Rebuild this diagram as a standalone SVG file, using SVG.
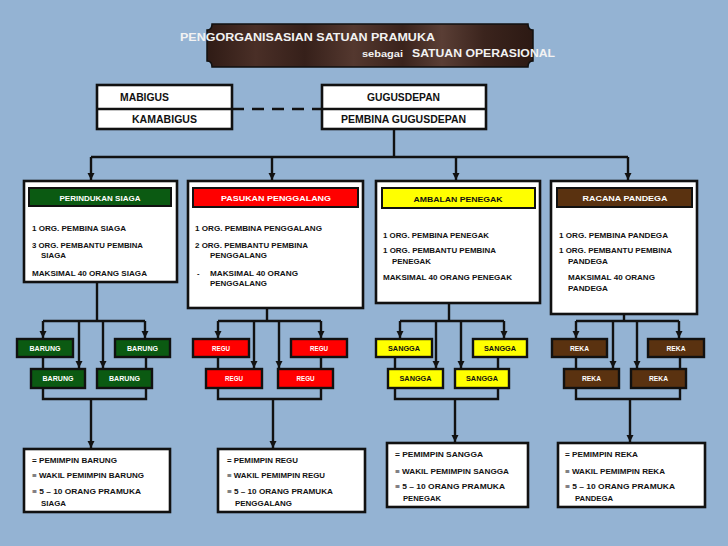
<svg xmlns="http://www.w3.org/2000/svg" width="728" height="546" viewBox="0 0 728 546">
<defs>
<linearGradient id="bannerGrad" x1="0" y1="0" x2="1" y2="0">
<stop offset="0" stop-color="#2f1b15"/>
<stop offset="0.15" stop-color="#4a2f27"/>
<stop offset="0.3" stop-color="#36201a"/>
<stop offset="0.45" stop-color="#54382f"/>
<stop offset="0.6" stop-color="#3a231c"/>
<stop offset="0.72" stop-color="#5a3e35"/>
<stop offset="0.85" stop-color="#3b241d"/>
<stop offset="1" stop-color="#2c1913"/>
</linearGradient>
<marker id="arr" markerUnits="userSpaceOnUse" markerWidth="8" markerHeight="8" refX="7" refY="3.5" orient="auto">
<path d="M0,0 L7,3.5 L0,7 Z" fill="#111"/>
</marker>
<style>
.ln{stroke:#111;stroke-width:2.4;fill:none}
.box{fill:#fff;stroke:#111;stroke-width:2.6}
.hdr{stroke:#111;stroke-width:2}
.sb{stroke:#111;stroke-width:2.4}
.green{fill:#0b5a12}
.red{fill:#ff0000}
.yellow{fill:#ffff00}
.brown{fill:#5a3210}
text{font-family:"Liberation Sans",Arial,sans-serif;font-weight:bold}
.t{font-size:7.6px;fill:#111}
.top{font-size:10px;fill:#111}
.hw{font-size:8px;fill:#fff;text-anchor:middle}
.hb{font-size:8px;fill:#111;text-anchor:middle}
.sw{font-size:6.5px;fill:#fff;text-anchor:middle}
.sk{font-size:6.5px;fill:#111;text-anchor:middle}
.title{fill:#f2f2f2}
</style>
</defs>
<rect width="728" height="546" fill="#94b3d3"/>

<g id="title">
<path d="M212,24 H528 Q528,30 533,30 V61 Q528,61 528,67 H212 Q212,61 207,61 V30 Q212,30 212,24 Z" fill="url(#bannerGrad)" stroke="#111" stroke-width="1.5"/>
<text class="title" x="180" y="41" font-size="11" textLength="255" lengthAdjust="spacingAndGlyphs">PENGORGANISASIAN SATUAN PRAMUKA</text>
<text class="title" x="362" y="57" font-size="8.5" textLength="41" lengthAdjust="spacingAndGlyphs">sebagai</text>
<text class="title" x="412" y="57" font-size="10.5" textLength="143" lengthAdjust="spacingAndGlyphs">SATUAN OPERASIONAL</text>
</g>

<g id="connectors">
<line class="ln" x1="232" y1="109" x2="322" y2="109" stroke-width="3" stroke-dasharray="12 8"/>
<line class="ln" x1="394" y1="129" x2="394" y2="157"/>
<line class="ln" x1="91" y1="157" x2="628" y2="157"/>
<line class="ln" x1="91" y1="157" x2="91" y2="180" marker-end="url(#arr)"/>
<line class="ln" x1="272" y1="157" x2="272" y2="180" marker-end="url(#arr)"/>
<line class="ln" x1="456" y1="157" x2="456" y2="180" marker-end="url(#arr)"/>
<line class="ln" x1="628" y1="157" x2="628" y2="180" marker-end="url(#arr)"/>

<line class="ln" x1="97" y1="282" x2="97" y2="321"/>
<line class="ln" x1="43" y1="321" x2="145" y2="321"/>
<line class="ln" x1="43" y1="321" x2="43" y2="338" marker-end="url(#arr)"/>
<line class="ln" x1="145" y1="321" x2="145" y2="338" marker-end="url(#arr)"/>
<line class="ln" x1="79" y1="321" x2="79" y2="368" marker-end="url(#arr)"/>
<line class="ln" x1="103" y1="321" x2="103" y2="368" marker-end="url(#arr)"/>
<polyline class="ln" points="43,357 43,399 146,399 146,357"/>
<line class="ln" x1="91" y1="399" x2="91" y2="448" marker-end="url(#arr)"/>

<line class="ln" x1="267" y1="303" x2="267" y2="321"/>
<line class="ln" x1="218" y1="321" x2="321" y2="321"/>
<line class="ln" x1="218" y1="321" x2="218" y2="338" marker-end="url(#arr)"/>
<line class="ln" x1="321" y1="321" x2="321" y2="338" marker-end="url(#arr)"/>
<line class="ln" x1="254" y1="321" x2="254" y2="368" marker-end="url(#arr)"/>
<line class="ln" x1="279" y1="321" x2="279" y2="368" marker-end="url(#arr)"/>
<polyline class="ln" points="218,357 218,399 321,399 321,357"/>
<line class="ln" x1="273" y1="399" x2="273" y2="448" marker-end="url(#arr)"/>

<line class="ln" x1="449" y1="303" x2="449" y2="321"/>
<line class="ln" x1="400" y1="321" x2="504" y2="321"/>
<line class="ln" x1="400" y1="321" x2="400" y2="338" marker-end="url(#arr)"/>
<line class="ln" x1="504" y1="321" x2="504" y2="338" marker-end="url(#arr)"/>
<line class="ln" x1="436" y1="321" x2="436" y2="368" marker-end="url(#arr)"/>
<line class="ln" x1="461" y1="321" x2="461" y2="368" marker-end="url(#arr)"/>
<polyline class="ln" points="395,357 395,399 498,399 498,357"/>
<line class="ln" x1="455" y1="399" x2="455" y2="442" marker-end="url(#arr)"/>

<line class="ln" x1="624" y1="309" x2="624" y2="321"/>
<line class="ln" x1="576" y1="321" x2="679" y2="321"/>
<line class="ln" x1="576" y1="321" x2="576" y2="338" marker-end="url(#arr)"/>
<line class="ln" x1="679" y1="321" x2="679" y2="338" marker-end="url(#arr)"/>
<line class="ln" x1="613" y1="321" x2="613" y2="368" marker-end="url(#arr)"/>
<line class="ln" x1="637" y1="321" x2="637" y2="368" marker-end="url(#arr)"/>
<polyline class="ln" points="576,357 576,399 680,399 680,357"/>
<line class="ln" x1="630" y1="399" x2="630" y2="442" marker-end="url(#arr)"/>
</g>

<g id="mabigus">
<rect class="box" x="97" y="85" width="135" height="44"/>
<line class="ln" x1="97" y1="109" x2="232" y2="109"/>
<text class="top" x="120" y="101" textLength="49" lengthAdjust="spacingAndGlyphs">MABIGUS</text>
<text class="top" x="132" y="123" textLength="65" lengthAdjust="spacingAndGlyphs">KAMABIGUS</text>
</g>

<g id="gugusdepan">
<rect class="box" x="322" y="85" width="164" height="44"/>
<line class="ln" x1="322" y1="109" x2="486" y2="109"/>
<text class="top" x="367" y="101" textLength="73" lengthAdjust="spacingAndGlyphs">GUGUSDEPAN</text>
<text class="top" x="341" y="123" textLength="125" lengthAdjust="spacingAndGlyphs">PEMBINA GUGUSDEPAN</text>
</g>

<g id="perindukan">
<rect class="box" x="24" y="181" width="153" height="101"/>
<rect class="hdr green" x="29" y="188" width="142" height="18"/>
<text class="hw" x="100" y="200.5" textLength="81" lengthAdjust="spacingAndGlyphs">PERINDUKAN SIAGA</text>
<text class="t" x="32" y="231" textLength="94" lengthAdjust="spacingAndGlyphs">1 ORG. PEMBINA SIAGA</text>
<text class="t" x="32" y="248" textLength="111" lengthAdjust="spacingAndGlyphs">3 ORG. PEMBANTU PEMBINA</text>
<text class="t" x="41" y="258" textLength="25" lengthAdjust="spacingAndGlyphs">SIAGA</text>
<text class="t" x="32" y="276" textLength="115" lengthAdjust="spacingAndGlyphs">MAKSIMAL 40 ORANG SIAGA</text>
</g>

<g id="pasukan">
<rect class="box" x="188" y="181" width="175" height="127"/>
<rect class="hdr red" x="193" y="188" width="165" height="19"/>
<text class="hw" x="276" y="201" textLength="110" lengthAdjust="spacingAndGlyphs">PASUKAN PENGGALANG</text>
<text class="t" x="195" y="231" textLength="127" lengthAdjust="spacingAndGlyphs">1 ORG. PEMBINA PENGGALANG</text>
<text class="t" x="195" y="248" textLength="113" lengthAdjust="spacingAndGlyphs">2 ORG. PEMBANTU PEMBINA</text>
<text class="t" x="210" y="258" textLength="57" lengthAdjust="spacingAndGlyphs">PENGGALANG</text>
<text class="t" x="197" y="276">-</text>
<text class="t" x="210" y="276" textLength="88" lengthAdjust="spacingAndGlyphs">MAKSIMAL 40 ORANG</text>
<text class="t" x="210" y="286" textLength="57" lengthAdjust="spacingAndGlyphs">PENGGALANG</text>
</g>

<g id="ambalan">
<rect class="box" x="376" y="181" width="164" height="122"/>
<rect class="hdr yellow" x="382" y="188" width="153" height="20"/>
<text class="hb" x="458" y="201.5" textLength="89" lengthAdjust="spacingAndGlyphs">AMBALAN PENEGAK</text>
<text class="t" x="383" y="238" textLength="106" lengthAdjust="spacingAndGlyphs">1 ORG. PEMBINA PENEGAK</text>
<text class="t" x="383" y="253" textLength="113" lengthAdjust="spacingAndGlyphs">1 ORG. PEMBANTU PEMBINA</text>
<text class="t" x="392" y="264" textLength="39" lengthAdjust="spacingAndGlyphs">PENEGAK</text>
<text class="t" x="383" y="280" textLength="129" lengthAdjust="spacingAndGlyphs">MAKSIMAL 40 ORANG PENEGAK</text>
</g>

<g id="racana">
<rect class="box" x="551" y="181" width="146" height="133"/>
<rect class="hdr brown" x="557" y="188" width="135" height="19"/>
<text class="hw" x="625" y="201" textLength="85" lengthAdjust="spacingAndGlyphs">RACANA PANDEGA</text>
<text class="t" x="559" y="238" textLength="109" lengthAdjust="spacingAndGlyphs">1 ORG. PEMBINA PANDEGA</text>
<text class="t" x="559" y="253" textLength="113" lengthAdjust="spacingAndGlyphs">1 ORG. PEMBANTU PEMBINA</text>
<text class="t" x="568" y="264" textLength="40" lengthAdjust="spacingAndGlyphs">PANDEGA</text>
<text class="t" x="568" y="280" textLength="87" lengthAdjust="spacingAndGlyphs">MAKSIMAL 40 ORANG</text>
<text class="t" x="568" y="291" textLength="40" lengthAdjust="spacingAndGlyphs">PANDEGA</text>
</g>

<g id="barung1"><rect class="sb green" x="17" y="339" width="56" height="18"/><text class="sw" x="45" y="350.5" textLength="31" lengthAdjust="spacingAndGlyphs">BARUNG</text></g>
<g id="barung2"><rect class="sb green" x="115" y="339" width="55" height="18"/><text class="sw" x="142.5" y="350.5" textLength="31" lengthAdjust="spacingAndGlyphs">BARUNG</text></g>
<g id="barung3"><rect class="sb green" x="31" y="369" width="54" height="19"/><text class="sw" x="58" y="381" textLength="31" lengthAdjust="spacingAndGlyphs">BARUNG</text></g>
<g id="barung4"><rect class="sb green" x="97" y="369" width="55" height="19"/><text class="sw" x="124.5" y="381" textLength="31" lengthAdjust="spacingAndGlyphs">BARUNG</text></g>

<g id="regu1"><rect class="sb red" x="193" y="339" width="56" height="18"/><text class="sw" x="221" y="350.5" textLength="18" lengthAdjust="spacingAndGlyphs">REGU</text></g>
<g id="regu2"><rect class="sb red" x="291" y="339" width="56" height="18"/><text class="sw" x="319" y="350.5" textLength="18" lengthAdjust="spacingAndGlyphs">REGU</text></g>
<g id="regu3"><rect class="sb red" x="206" y="369" width="56" height="19"/><text class="sw" x="234" y="381" textLength="18" lengthAdjust="spacingAndGlyphs">REGU</text></g>
<g id="regu4"><rect class="sb red" x="278" y="369" width="55" height="19"/><text class="sw" x="305.5" y="381" textLength="18" lengthAdjust="spacingAndGlyphs">REGU</text></g>

<g id="sangga1"><rect class="sb yellow" x="376" y="339" width="56" height="18"/><text class="sk" x="404" y="350.5" textLength="32" lengthAdjust="spacingAndGlyphs">SANGGA</text></g>
<g id="sangga2"><rect class="sb yellow" x="473" y="339" width="54" height="18"/><text class="sk" x="500" y="350.5" textLength="32" lengthAdjust="spacingAndGlyphs">SANGGA</text></g>
<g id="sangga3"><rect class="sb yellow" x="388" y="369" width="55" height="19"/><text class="sk" x="415.5" y="381" textLength="32" lengthAdjust="spacingAndGlyphs">SANGGA</text></g>
<g id="sangga4"><rect class="sb yellow" x="455" y="369" width="54" height="19"/><text class="sk" x="482" y="381" textLength="32" lengthAdjust="spacingAndGlyphs">SANGGA</text></g>

<g id="reka1"><rect class="sb brown" x="552" y="339" width="55" height="18"/><text class="sw" x="579.5" y="350.5" textLength="19" lengthAdjust="spacingAndGlyphs">REKA</text></g>
<g id="reka2"><rect class="sb brown" x="648" y="339" width="56" height="18"/><text class="sw" x="676" y="350.5" textLength="19" lengthAdjust="spacingAndGlyphs">REKA</text></g>
<g id="reka3"><rect class="sb brown" x="564" y="369" width="55" height="19"/><text class="sw" x="591.5" y="381" textLength="19" lengthAdjust="spacingAndGlyphs">REKA</text></g>
<g id="reka4"><rect class="sb brown" x="631" y="369" width="55" height="19"/><text class="sw" x="658.5" y="381" textLength="19" lengthAdjust="spacingAndGlyphs">REKA</text></g>

<g id="info-barung">
<rect class="box" x="24" y="449" width="146" height="63"/>
<text class="t" x="32" y="463" textLength="85" lengthAdjust="spacingAndGlyphs">= PEMIMPIN BARUNG</text>
<text class="t" x="32" y="478" textLength="112" lengthAdjust="spacingAndGlyphs">≡ WAKIL PEMIMPIN BARUNG</text>
<text class="t" x="32" y="494" textLength="109" lengthAdjust="spacingAndGlyphs">≡ 5 – 10 ORANG PRAMUKA</text>
<text class="t" x="41" y="506" textLength="25" lengthAdjust="spacingAndGlyphs">SIAGA</text>
</g>

<g id="info-regu">
<rect class="box" x="218" y="449" width="147" height="63"/>
<text class="t" x="227" y="463" textLength="71" lengthAdjust="spacingAndGlyphs">= PEMIMPIN REGU</text>
<text class="t" x="227" y="478" textLength="98" lengthAdjust="spacingAndGlyphs">≡ WAKIL PEMIMPIN REGU</text>
<text class="t" x="227" y="494" textLength="106" lengthAdjust="spacingAndGlyphs">≡ 5 – 10 ORANG PRAMUKA</text>
<text class="t" x="235" y="506" textLength="57" lengthAdjust="spacingAndGlyphs">PENGGALANG</text>
</g>

<g id="info-sangga">
<rect class="box" x="387" y="443" width="141" height="64"/>
<text class="t" x="395" y="457" textLength="88" lengthAdjust="spacingAndGlyphs">= PEMIMPIN SANGGA</text>
<text class="t" x="395" y="474" textLength="114" lengthAdjust="spacingAndGlyphs">≡ WAKIL PEMIMPIN SANGGA</text>
<text class="t" x="395" y="489" textLength="110" lengthAdjust="spacingAndGlyphs">≡ 5 – 10 ORANG PRAMUKA</text>
<text class="t" x="403" y="501" textLength="38" lengthAdjust="spacingAndGlyphs">PENEGAK</text>
</g>

<g id="info-reka">
<rect class="box" x="558" y="443" width="147" height="64"/>
<text class="t" x="565" y="457" textLength="73" lengthAdjust="spacingAndGlyphs">= PEMIMPIN REKA</text>
<text class="t" x="565" y="474" textLength="100" lengthAdjust="spacingAndGlyphs">≡ WAKIL PEMIMPIN REKA</text>
<text class="t" x="565" y="489" textLength="110" lengthAdjust="spacingAndGlyphs">≡ 5 – 10 ORANG PRAMUKA</text>
<text class="t" x="575" y="501" textLength="38" lengthAdjust="spacingAndGlyphs">PANDEGA</text>
</g>
</svg>
